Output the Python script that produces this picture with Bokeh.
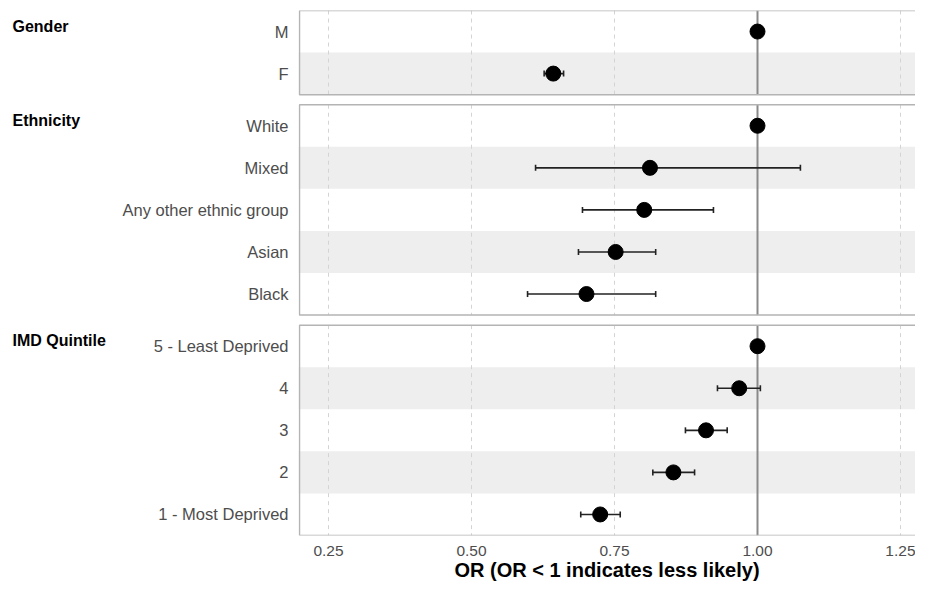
import numpy as np
from bokeh.plotting import figure
from bokeh.layouts import row
from bokeh.models import Range1d, FixedTicker, NumeralTickFormatter
from bokeh.core.properties import value
from bokeh.embed import file_html
from bokeh.resources import INLINE

nan = float("nan")

# ---------------- data ----------------
group_names = ["Gender", "Ethnicity", "IMD Quintile"]

gender_labels = ["M", "F"]
gender_or = [1.0, 0.643]
gender_lo = [nan, 0.627]
gender_hi = [nan, 0.661]

ethnicity_labels = ["White", "Mixed", "Any other ethnic group", "Asian", "Black"]
ethnicity_or = [1.0, 0.812, 0.802, 0.752, 0.701]
ethnicity_lo = [nan, 0.612, 0.694, 0.687, 0.598]
ethnicity_hi = [nan, 1.075, 0.923, 0.822, 0.822]

imd_labels = ["5 - Least Deprived", "4", "3", "2", "1 - Most Deprived"]
imd_or = [1.0, 0.968, 0.910, 0.853, 0.725]
imd_lo = [nan, 0.930, 0.874, 0.817, 0.691]
imd_hi = [nan, 1.005, 0.947, 0.890, 0.760]

x_ticks = [0.25, 0.50, 0.75, 1.00, 1.25]
ref_value = 1.0
x_title = "OR (OR < 1 indicates less likely)"

groups = [
    (group_names[0], gender_labels, gender_or, gender_lo, gender_hi),
    (group_names[1], ethnicity_labels, ethnicity_or, ethnicity_lo, ethnicity_hi),
    (group_names[2], imd_labels, imd_or, imd_lo, imd_hi),
]

# ---------------- layout constants ----------------
GAP = 0.24            # gap between panels, in row units
TOP = 10              # px above frame
FRAME_H = 525
LEFT_W = 112          # width of strip-label column
FRAME_LEFT = 298      # frame left edge in page px
FRAME_W = 915 - FRAME_LEFT
PX_PER_X = 572.0
X0 = 0.25 - 30.0 / PX_PER_X
X1 = X0 + FRAME_W / PX_PER_X

pt_x, pt_y = [], []
ci_x0, ci_x1, ci_y = [], [], []
tick_pos, tick_lab = [], []
band_top, band_bot = [], []
panel_top, panel_bot = [], []
strip_names, strip_y = [], []

top = 0.0
for name, labs, ors, los, his in groups:
    n = len(labs)
    panel_top.append(top)
    panel_bot.append(top + n)
    strip_names.append(name)
    strip_y.append(top + 0.5)
    for i in range(n):
        c = top + i + 0.5
        tick_pos.append(c)
        tick_lab.append(labs[i])
        pt_x.append(ors[i])
        pt_y.append(c)
        if not np.isnan(los[i]):
            ci_x0.append(los[i])
            ci_x1.append(his[i])
            ci_y.append(c)
        if i % 2 == 1:
            band_top.append(top + i)
            band_bot.append(top + i + 1)
    top += n + GAP
ymax = top - GAP
row_px = FRAME_H / ymax

yr = Range1d(ymax, 0)

# ---------------- main plot ----------------
p = figure(frame_width=FRAME_W, frame_height=FRAME_H,
           x_range=Range1d(X0, X1), y_range=yr,
           output_backend="svg", toolbar_location=None,
           min_border_left=FRAME_LEFT - LEFT_W, min_border_right=0,
           min_border_top=TOP, min_border_bottom=0)
p.outline_line_color = None
p.xgrid.visible = False
p.ygrid.visible = False

# alternating bands
p.quad(left=X0, right=X1, top=band_top, bottom=band_bot,
       fill_color="#eeeeee", line_color=None)

# dashed grid lines per panel
gx, gy0, gy1 = [], [], []
for t, b in zip(panel_top, panel_bot):
    for xt in x_ticks:
        if xt != ref_value:
            gx.append(xt); gy0.append(t); gy1.append(b)
p.segment(x0=gx, x1=gx, y0=gy0, y1=gy1, line_color="#d4d4d4",
          line_width=1, line_dash="4 4")

# reference line at 1
p.segment(x0=[ref_value] * len(panel_top), x1=[ref_value] * len(panel_top),
          y0=panel_top, y1=panel_bot, line_color="#8a8a8a", line_width=2)

# panel borders
p.quad(left=X0 + 1.0 / PX_PER_X, right=X1 + 5, top=panel_top, bottom=panel_bot,
       fill_color=None, line_color="#b4b4b4", line_width=1.5)

# confidence intervals
cap = 3.0 / row_px
p.segment(x0=ci_x0, x1=ci_x1, y0=ci_y, y1=ci_y, line_color="#222222", line_width=1.6)
p.segment(x0=ci_x0, x1=ci_x0, y0=[y - cap for y in ci_y], y1=[y + cap for y in ci_y],
          line_color="#222222", line_width=1.6)
p.segment(x0=ci_x1, x1=ci_x1, y0=[y - cap for y in ci_y], y1=[y + cap for y in ci_y],
          line_color="#222222", line_width=1.6)

# points
p.scatter(x=pt_x, y=pt_y, size=15, marker="circle", fill_color="black",
          line_color="black")

# axes
p.xaxis.ticker = FixedTicker(ticks=x_ticks)
p.xaxis.formatter = NumeralTickFormatter(format="0.00")
p.xaxis.axis_line_color = None
p.xaxis.major_tick_line_color = None
p.xaxis.minor_tick_line_color = None
p.xaxis.major_tick_out = 0
p.xaxis.major_label_standoff = 10
p.xaxis.major_label_text_font = "Liberation Sans"
p.xaxis.major_label_text_font_size = "15.5px"
p.xaxis.major_label_text_color = "#4d4d4d"
p.xaxis.axis_label = x_title
p.xaxis.axis_label_standoff = 0
p.xaxis.axis_label_text_font = "Liberation Sans"
p.xaxis.axis_label_text_font_size = "20px"
p.xaxis.axis_label_text_font_style = "bold"
p.xaxis.axis_label_text_color = "black"

p.yaxis.ticker = FixedTicker(ticks=tick_pos)
p.yaxis.major_label_overrides = {t: l for t, l in zip(tick_pos, tick_lab)}
p.yaxis.axis_line_color = None
p.yaxis.major_tick_line_color = None
p.yaxis.minor_tick_line_color = None
p.yaxis.major_tick_out = 0
p.yaxis.major_label_standoff = 10
p.yaxis.major_label_text_font = "Liberation Sans"
p.yaxis.major_label_text_font_size = "16.5px"
p.yaxis.major_label_text_color = "#4d4d4d"

# ---------------- strip labels column ----------------
s = figure(frame_width=LEFT_W, frame_height=FRAME_H,
           x_range=Range1d(0, LEFT_W), y_range=yr,
           output_backend="svg", toolbar_location=None,
           x_axis_type=None, y_axis_type=None,
           min_border_left=0, min_border_right=0, min_border_top=TOP,
           min_border_bottom=0)
s.outline_line_color = None
s.xgrid.visible = False
s.ygrid.visible = False
s.text(x=[12] * len(strip_names), y=[y - 5.5 / row_px for y in strip_y],
       text=strip_names, text_font=value("Liberation Sans"),
       text_font_size="16px", text_font_style="bold", text_color="black",
       text_align="left", text_baseline="middle")

layout = row(s, p, spacing=0)
open("out.html", "w").write(file_html(layout, INLINE))
